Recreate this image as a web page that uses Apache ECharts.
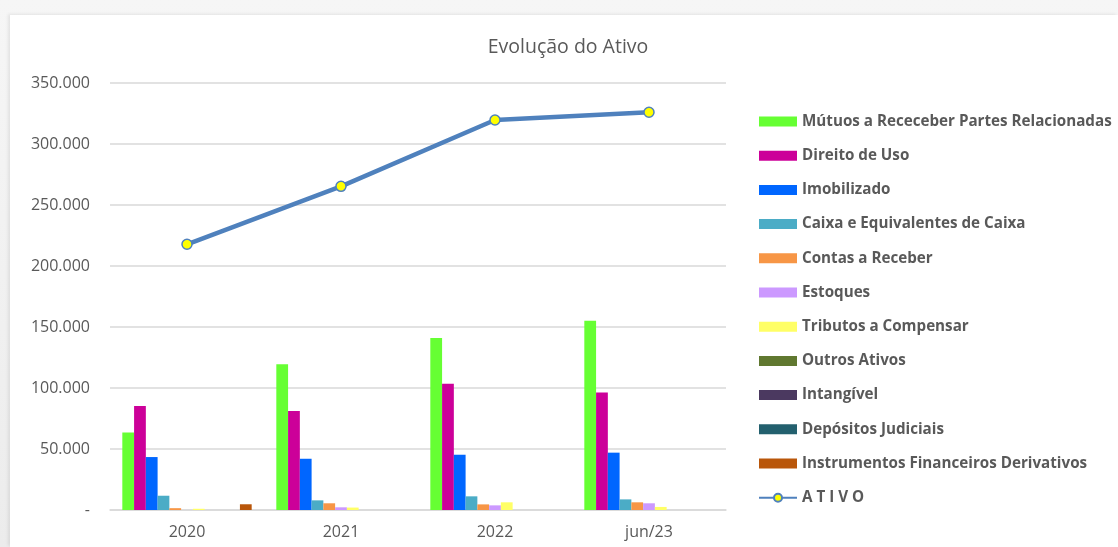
<!DOCTYPE html>
<html>
<head>
<meta charset="utf-8">
<script src="https://cdn.jsdelivr.net/npm/echarts@6/dist/echarts.min.js"></script>
<style>
  html, body { margin: 0; padding: 0; background: #f3f3f3; }
  #wrap { position: absolute; left: 0; top: 0; width: 1118px; height: 547px; overflow: hidden;
          background: linear-gradient(#f6f6f6, #ececec); }
  #chart { position: absolute; left: 10px; top: 15px; width: 1108px; height: 532px; background: #fff;
           box-shadow: -2px -1px 3px rgba(0,0,0,0.08); }
</style>
</head>
<body>
<div id="wrap"><div id="chart"></div></div>
<script>
// categorias e valores (R$ mil)
var categorias = ['2020', '2021', '2022', 'jun/23'];

var mutuos = [63500, 119500, 141000, 155200];
var direitoUso = [85200, 81100, 103500, 96400];
var imobilizado = [43400, 42000, 45300, 47000];
var caixa = [11700, 7900, 11200, 8700];
var contasReceber = [1500, 5500, 4600, 6300];
var estoques = [0, 2200, 3800, 5500];
var tributos = [1000, 2000, 6300, 2500];
var outrosAtivos = [0, 0, 0, 0];
var intangivel = [0, 0, 0, 0];
var depositos = [0, 0, 0, 0];
var instrumentos = [4700, 0, 0, 0];
var ativo = [217800, 265300, 319700, 326000];

var barras = [
    ['Mútuos a Receceber Partes Relacionadas', mutuos, '#66ff33'],
    ['Direito de Uso', direitoUso, '#cc0099'],
    ['Imobilizado', imobilizado, '#0066ff'],
    ['Caixa e Equivalentes de Caixa', caixa, '#4bacc6'],
    ['Contas a Receber', contasReceber, '#f79646'],
    ['Estoques', estoques, '#cc99ff'],
    ['Tributos a Compensar', tributos, '#ffff66'],
    ['Outros Ativos', outrosAtivos, '#607830'],
    ['Intangível', intangivel, '#4b3960'],
    ['Depósitos Judiciais', depositos, '#23606e'],
    ['Instrumentos Financeiros Derivativos', instrumentos, '#b9560a']
];

//formata 350000 -> 350.000
function fmt(v) {
    if (v == 0) return '-';
    return String(v).replace(/\B(?=(\d{3})+(?!\d))/g, '.');
}

series_list = [];
legend_data = [];
for (var i = 0; i < barras.length; i++) {
    series_list.push({
        name: barras[i][0],
        type: 'bar',
        data: barras[i][1],
        barGap: '0%',
        barCategoryGap: '16%',
        itemStyle: { color: barras[i][2] }
    });
    legend_data.push({ name: barras[i][0], icon: 'rect' });
}
series_list.push({
    name: 'A T I V O',
    type: 'line',
    data: ativo,
    z: 5,
    symbol: 'circle',
    symbolSize: 10,
    lineStyle: { color: '#4f81bd', width: 4.5 },
    itemStyle: { color: '#ffff00', borderColor: '#4f81bd', borderWidth: 1.5 }
});
legend_data.push({ name: 'A T I V O' });

var myChart = echarts.init(document.getElementById('chart'));
var option = {
    animation: false,
    textStyle: { fontFamily: 'Open Sans' },
    title: {
        text: 'Evolução do Ativo',
        left: 553, top: 17,
        textAlign: 'center',
        textStyle: { fontSize: 19.5, fontWeight: 'normal', color: '#595959', fontFamily: 'Open Sans' }
    },
    legend: {
        orient: 'vertical',
        left: 743, top: 94,
        itemWidth: 38, itemHeight: 10,
        itemGap: 19.2,
        data: legend_data,
        textStyle: { fontSize: 15.2, fontWeight: 'bold', color: '#595959', lineHeight: 14, fontFamily: 'Open Sans' }
    },
    grid: { left: 100, right: 392, top: 68, bottom: 37 },
    xAxis: {
        type: 'category',
        data: categorias,
        axisTick: { show: false },
        axisLine: { lineStyle: { color: '#d9d9d9', width: 1.5 } },
        axisLabel: { color: '#595959', fontSize: 16, margin: 14 }
    },
    yAxis: {
        type: 'value',
        min: 0, max: 350000, interval: 50000,
        axisLine: { show: false },
        axisTick: { show: false },
        splitLine: { lineStyle: { color: '#d9d9d9', width: 1.5 } },
        axisLabel: { color: '#595959', fontSize: 16, margin: 20, formatter: fmt }
    },
    series: series_list
};
myChart.setOption(option);
</script>
</body>
</html>
